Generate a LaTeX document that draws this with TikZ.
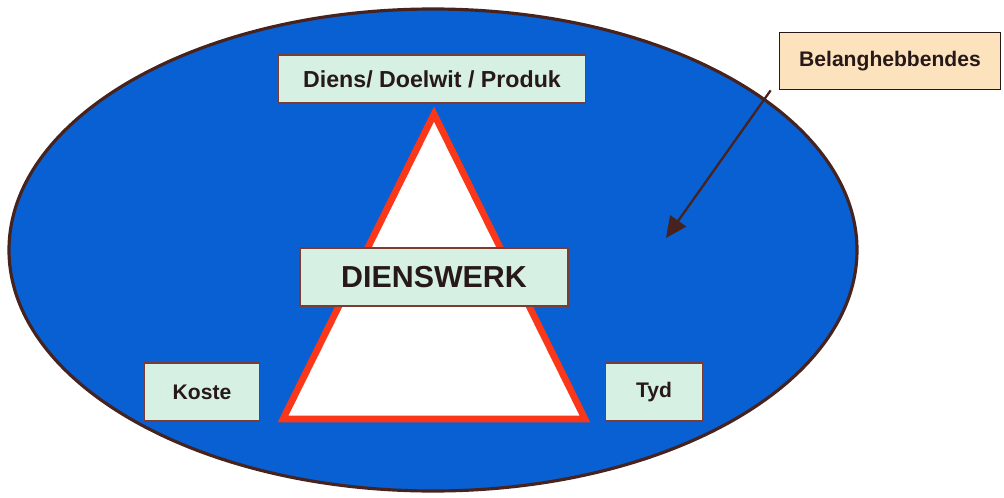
\documentclass[tikz,border=0pt]{standalone}
\usepackage{fontspec}
\setmainfont{Liberation Sans}
\usetikzlibrary{positioning, arrows.meta}

\definecolor{fieldblue}{RGB}{8,96,210}
\definecolor{rimbrown}{RGB}{70,35,30}
\definecolor{boxmint}{RGB}{214,240,228}
\definecolor{boxedge}{RGB}{125,60,50}
\definecolor{boxpeach}{RGB}{253,226,190}
\definecolor{trired}{RGB}{250,55,25}
\definecolor{inkdark}{RGB}{40,25,25}

\begin{document}
\begin{tikzpicture}[x=0.02cm, y=-0.02cm,
        every node/.style={font=\bfseries, text=inkdark},
        mintbox/.style={rectangle, draw=boxedge, line width=0.9pt, fill=boxmint, inner sep=0pt},
        peachbox/.style={rectangle, draw=inkdark, line width=1pt, fill=boxpeach, inner sep=0pt}]
        \useasboundingbox (0,0) rectangle (1004,497);
        % field of stakeholders
        \draw[rimbrown, line width=1.8pt, fill=fieldblue] (433,250) ellipse [x radius=424, y radius=241];

        % triangle
        \draw[trired, line width=3.8pt, fill=white, line join=miter] (434,114) -- (585,419) -- (283,419) -- cycle;

        \node[mintbox, minimum width=307*0.02cm, minimum height=48*0.02cm, font=\bfseries\fontsize{13.2}{16}\selectfont] (doel) at (432,79) {Diens/ Doelwit / Produk};
        \node[mintbox, minimum width=268*0.02cm, minimum height=58*0.02cm, font=\bfseries\LARGE] (werk) at (434,277) {DIENSWERK};
        \node[mintbox, minimum width=115*0.02cm, minimum height=58*0.02cm, font=\bfseries\large] (koste) at (202,392) {Koste};
        \node[mintbox, minimum width=97*0.02cm, minimum height=58*0.02cm, font=\bfseries\large] (tyd) at (654,392) {Tyd};
        \node[peachbox, minimum width=221*0.02cm, minimum height=57*0.02cm, font=\bfseries\large] (belang) at (890,61) {Belanghebbendes};

        \coordinate (veld) at (666,238);
        \draw[rimbrown, line width=1.3pt, -{Triangle[length=12pt, width=11pt]}] (belang.south west) ++(-8,0) -- (veld);
\end{tikzpicture}
\end{document}
